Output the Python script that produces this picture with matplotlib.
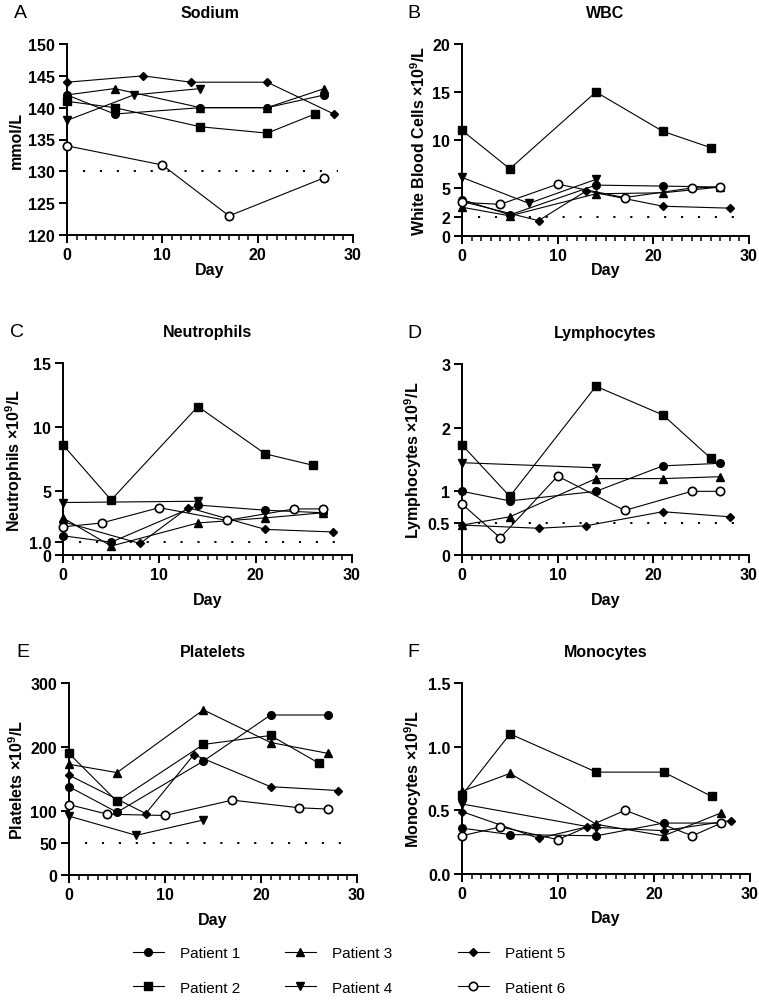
import matplotlib
matplotlib.use("Agg")
import matplotlib.pyplot as plt
from matplotlib.lines import Line2D
from matplotlib.ticker import MultipleLocator

plt.rcParams['font.family'] = ['Liberation Sans', 'DejaVu Sans']
plt.rcParams['mathtext.fontset'] = 'custom'
plt.rcParams['mathtext.bf'] = 'Liberation Sans:bold'
plt.rcParams['mathtext.rm'] = 'Liberation Sans'

patients = ["Patient 1", "Patient 2", "Patient 3", "Patient 4", "Patient 5", "Patient 6"]

# Days per patient
days_p1 = [0, 5, 14, 21, 27]
days_p2 = [0, 5, 14, 21, 26]
days_p3 = [0, 5, 14, 21, 27]
days_p4 = [0, 7, 14]
days_p4_short = [0, 14]
days_p5 = [0, 8, 13, 21, 28]
days_p6 = [0, 4, 10, 17, 24, 27]
days_p6_na = [0, 10, 17, 27]

# Sodium (mmol/L)
sodium_p1 = [142, 139, 140, 140, 142]
sodium_p2 = [141, 140, 137, 136, 139]
sodium_p3 = [142, 143, 140, 140, 143]
sodium_p4 = [138, 142, 143]
sodium_p5 = [144, 145, 144, 144, 139]
sodium_p6 = [134, 131, 123, 129]

# WBC
wbc_p1 = [3.8, 2.2, 5.3, 5.2, 5.1]
wbc_p2 = [11.0, 7.0, 15.0, 10.9, 9.2]
wbc_p3 = [3.0, 2.1, 4.4, 4.5, 5.1]
wbc_p4 = [6.1, 3.4, 5.9]
wbc_p5 = [3.6, 1.6, 4.7, 3.1, 2.9]
wbc_p6 = [3.5, 3.3, 5.4, 4.0, 5.0, 5.1]

# Neutrophils
neut_p1 = [1.5, 1.0, 3.9, 3.5, 3.3]
neut_p2 = [8.6, 4.3, 11.6, 7.9, 7.0]
neut_p3 = [2.9, 0.7, 2.5, 2.9, 3.3]
neut_p4 = [4.1, 4.2]
neut_p5 = [2.6, 0.9, 3.7, 2.0, 1.8]
neut_p6 = [2.2, 2.5, 3.7, 2.7, 3.6, 3.6]

# Lymphocytes
lymph_p1 = [1.0, 0.85, 1.0, 1.4, 1.44]
lymph_p2 = [1.73, 0.92, 2.65, 2.2, 1.52]
lymph_p3 = [0.47, 0.6, 1.2, 1.2, 1.23]
lymph_p4 = [1.45, 1.37]
lymph_p5 = [0.47, 0.42, 0.46, 0.68, 0.6]
lymph_p6 = [0.8, 0.27, 1.24, 0.7, 1.0, 1.0]

# Platelets
plt_p1 = [138, 98, 178, 250, 250]
plt_p2 = [190, 115, 204, 218, 175]
plt_p3 = [173, 160, 258, 207, 190]
plt_p4 = [92, 62, 86]
plt_p5 = [156, 96, 188, 138, 132]
plt_p6 = [110, 95, 93, 117, 105, 103]

# Monocytes
mono_p1 = [0.36, 0.31, 0.30, 0.40, 0.40]
mono_p2 = [0.62, 1.10, 0.80, 0.80, 0.61]
mono_p3 = [0.65, 0.79, 0.39, 0.30, 0.48]
mono_p4 = [0.55, 0.36]
mono_p5 = [0.49, 0.28, 0.37, 0.34, 0.42]
mono_p6 = [0.30, 0.37, 0.27, 0.50, 0.30, 0.40]

styles = [
    dict(marker='o', ms=5.5, mfc='black', mec='black'),
    dict(marker='s', ms=5.5, mfc='black', mec='black'),
    dict(marker='^', ms=6, mfc='black', mec='black'),
    dict(marker='v', ms=6, mfc='black', mec='black'),
    dict(marker='D', ms=3.8, mfc='black', mec='black'),
    dict(marker='o', ms=6, mfc='white', mec='black', mew=1.2),
]

panels = [
    dict(letter="A", title="Sodium", ylabel="mmol/L", ylim=(120, 150),
         yticks=[120, 125, 130, 135, 140, 145, 150],
         yticklabels=["120", "125", "130", "135", "140", "145", "150"], ref=130,
         data=[(days_p1, sodium_p1), (days_p2, sodium_p2), (days_p3, sodium_p3),
               (days_p4, sodium_p4), (days_p5, sodium_p5), (days_p6_na, sodium_p6)],
         rect=(67, 45, 353, 236), xlab_y=271),
    dict(letter="B", title="WBC", ylabel=r"White Blood Cells ×10$^{\mathbf{9}}$/L", ylim=(0, 20),
         yticks=[0, 2, 5, 10, 15, 20], yticklabels=["0", "2", "5", "10", "15", "20"], ref=2,
         data=[(days_p1, wbc_p1), (days_p2, wbc_p2), (days_p3, wbc_p3),
               (days_p4, wbc_p4), (days_p5, wbc_p5), (days_p6, wbc_p6)],
         rect=(462, 45, 749, 237), xlab_y=271),
    dict(letter="C", title="Neutrophils", ylabel=r"Neutrophils ×10$^{\mathbf{9}}$/L", ylim=(0, 15),
         yticks=[0, 1, 5, 10, 15], yticklabels=["0", "1.0", "5", "10", "15"], ref=1,
         data=[(days_p1, neut_p1), (days_p2, neut_p2), (days_p3, neut_p3),
               (days_p4_short, neut_p4), (days_p5, neut_p5), (days_p6, neut_p6)],
         rect=(63, 364, 352, 556), xlab_y=600),
    dict(letter="D", title="Lymphocytes", ylabel=r"Lymphocytes ×10$^{\mathbf{9}}$/L", ylim=(0, 3),
         yticks=[0, 0.5, 1, 2, 3], yticklabels=["0", "0.5", "1", "2", "3"], ref=0.5,
         data=[(days_p1, lymph_p1), (days_p2, lymph_p2), (days_p3, lymph_p3),
               (days_p4_short, lymph_p4), (days_p5, lymph_p5), (days_p6, lymph_p6)],
         rect=(462, 365, 749, 556), xlab_y=600),
    dict(letter="E", title="Platelets", ylabel=r"Platelets ×10$^{\mathbf{9}}$/L", ylim=(0, 300),
         yticks=[0, 50, 100, 200, 300], yticklabels=["0", "50", "100", "200", "300"], ref=50,
         data=[(days_p1, plt_p1), (days_p2, plt_p2), (days_p3, plt_p3),
               (days_p4, plt_p4), (days_p5, plt_p5), (days_p6, plt_p6)],
         rect=(69, 684, 357, 876), xlab_y=921),
    dict(letter="F", title="Monocytes", ylabel=r"Monocytes ×10$^{\mathbf{9}}$/L", ylim=(0, 1.5),
         yticks=[0, 0.5, 1.0, 1.5], yticklabels=["0.0", "0.5", "1.0", "1.5"], ref=None,
         data=[(days_p1, mono_p1), (days_p2, mono_p2), (days_p3, mono_p3),
               (days_p4_short, mono_p4), (days_p5, mono_p5), (days_p6, mono_p6)],
         rect=(462, 684, 750, 875), xlab_y=919),
]

W, H = 759, 1004
fig = plt.figure(figsize=(W / 100, H / 100), dpi=100)
fig.patch.set_facecolor('white')

for p in panels:
    x0, y0, x1, y1 = p["rect"]
    ax = fig.add_axes([x0 / W, 1 - y1 / H, (x1 - x0) / W, (y1 - y0) / H])
    ax.set_xlim(0, 30)
    ax.set_ylim(*p["ylim"])
    for sp in ["top", "right"]:
        ax.spines[sp].set_visible(False)
    for sp in ["left", "bottom"]:
        ax.spines[sp].set_linewidth(1.4)
    ax.set_xticks([0, 10, 20, 30])
    ax.xaxis.set_minor_locator(MultipleLocator(1))
    ax.set_yticks(p["yticks"])
    ax.set_yticklabels(p["yticklabels"])
    ax.tick_params(axis='both', which='major', length=6, width=1.4, labelsize=11.5, pad=2.5)
    ax.tick_params(axis='x', which='minor', length=3.5, width=1.1)
    for lab in ax.get_xticklabels() + ax.get_yticklabels():
        lab.set_fontweight('bold')
    if p["ref"] is not None:
        ax.plot([1.7, 28.4], [p["ref"], p["ref"]], color='black', lw=1.4,
                linestyle=(0, (1.1, 7.6)), dash_capstyle='butt')
    for (dx, dy), st in zip(p["data"], styles):
        ax.plot(dx, dy, color='black', lw=0.8, clip_on=False, zorder=3, **st)
    ax.set_ylabel(p["ylabel"], fontsize=11.5, fontweight='bold', labelpad=3)
    fig.text((x0 + x1) / 2 / W, 1 - (y0 - 31) / H, p["title"], ha='center', va='center',
             fontsize=11.5, fontweight='bold')
    fig.text((x0 - 53) / W if x0 < 100 else (x0 - 55) / W, 1 - (y0 - 31) / H, p["letter"],
             ha='left', va='center', fontsize=14)
    fig.text((x0 + x1) / 2 / W, 1 - p["xlab_y"] / H, "Day", ha='center', va='center',
             fontsize=11.5, fontweight='bold')

handles = [Line2D([], [], color='black', lw=0.8, **st) for st in styles]
col_x = [133, 285, 458]
for i in range(3):
    fig.legend(handles[2 * i:2 * i + 2], patients[2 * i:2 * i + 2], loc='upper left',
               bbox_to_anchor=(col_x[i] / W, 1 - 947 / H), frameon=False, fontsize=11,
               handlelength=2.0, handletextpad=1.1, labelspacing=1.35, borderpad=0,
               borderaxespad=0)

fig.savefig("out.png", dpi=100, facecolor='white')
